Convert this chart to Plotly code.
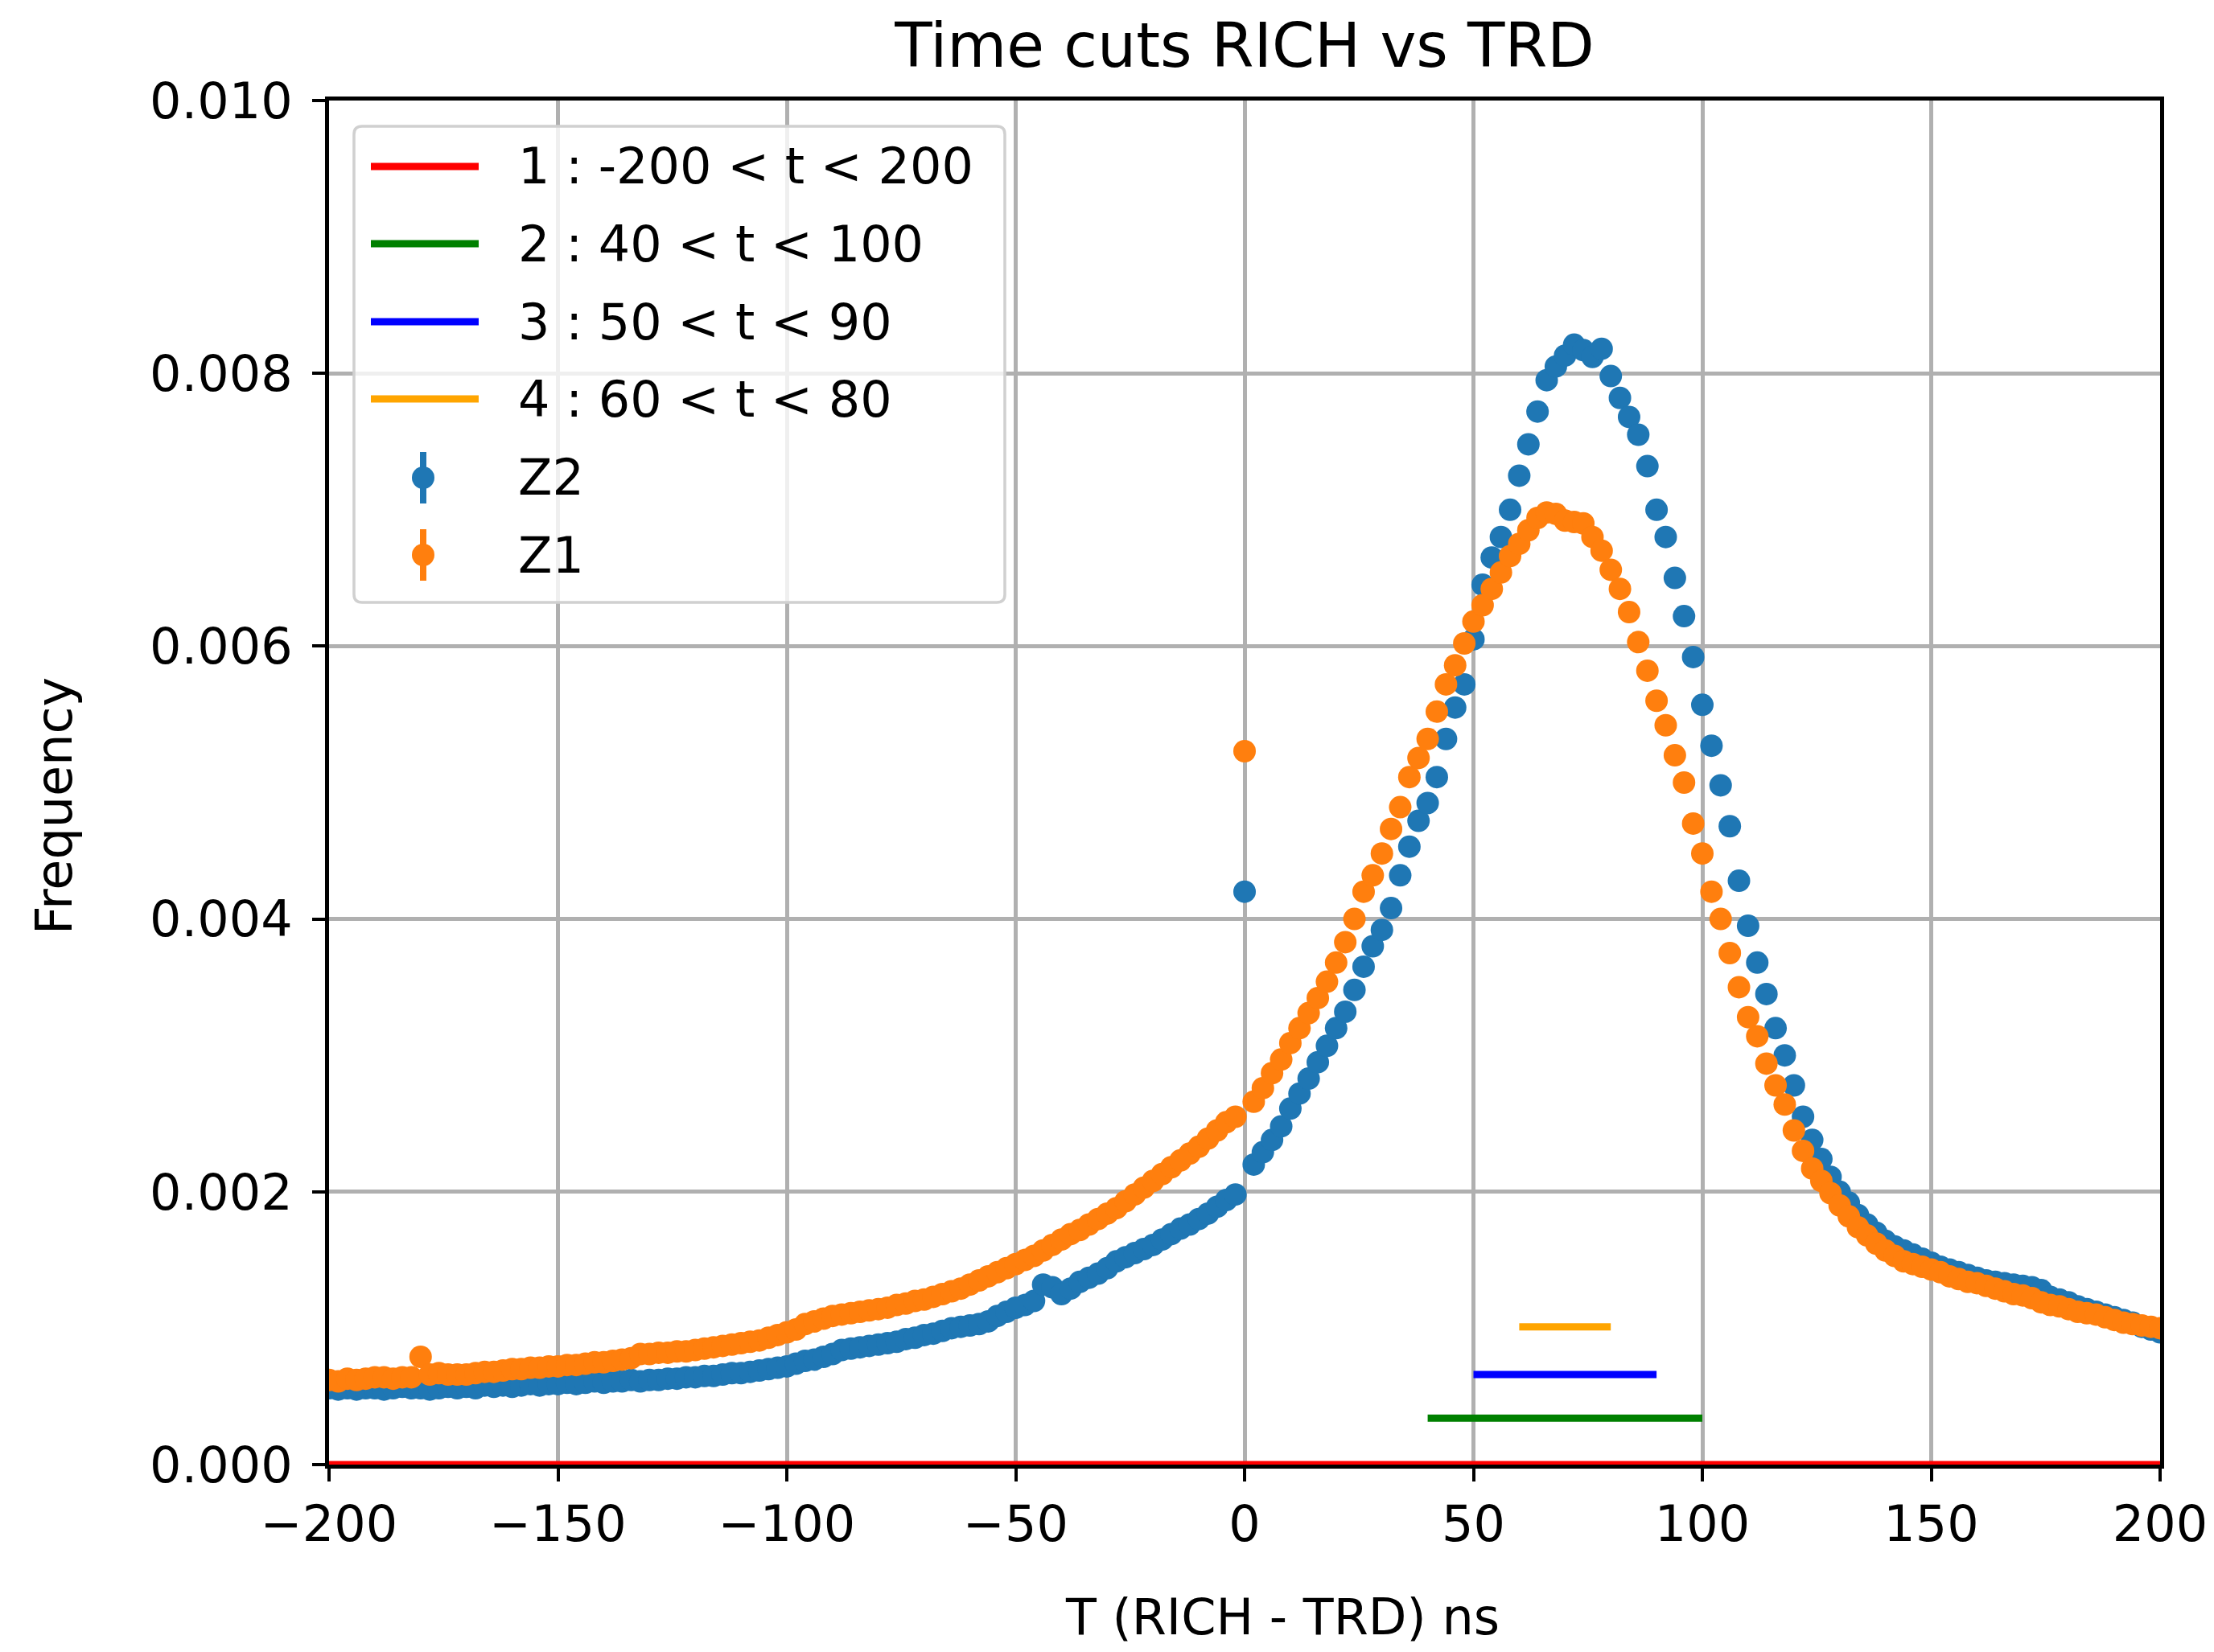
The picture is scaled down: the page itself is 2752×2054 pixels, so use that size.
import plotly.graph_objects as go

# ---------------- data ----------------
# bin positions (ns)
t_bins = list(range(-200, 201, 2))

# normalised frequency, in units of 1e-3
freq_z2_milli = [
    0.56, 0.55, 0.56, 0.55, 0.56, 0.56, 0.55, 0.56, 0.57, 0.56,
    0.56, 0.55, 0.56, 0.57, 0.56, 0.57, 0.56, 0.58, 0.57, 0.58,
    0.57, 0.58, 0.59, 0.58, 0.59, 0.59, 0.60, 0.59, 0.60, 0.61,
    0.60, 0.61, 0.61, 0.62, 0.61, 0.62, 0.62, 0.63, 0.63, 0.64,
    0.64, 0.65, 0.65, 0.66, 0.67, 0.67, 0.68, 0.69, 0.70, 0.71,
    0.72, 0.74, 0.76, 0.77, 0.79, 0.81, 0.84, 0.85, 0.86, 0.87,
    0.88, 0.89, 0.90, 0.92, 0.93, 0.95, 0.96, 0.98, 1.00, 1.01,
    1.02, 1.03, 1.05, 1.09, 1.12, 1.15, 1.17, 1.20, 1.32, 1.30,
    1.25, 1.29, 1.34, 1.37, 1.40, 1.44, 1.49, 1.52, 1.55, 1.58,
    1.61, 1.65, 1.69, 1.73, 1.76, 1.80, 1.84, 1.89, 1.94, 1.98,
    4.20, 2.20, 2.29, 2.38, 2.48, 2.61, 2.72, 2.83, 2.95, 3.07,
    3.20, 3.32, 3.48, 3.65, 3.80, 3.92, 4.08, 4.32, 4.53, 4.72,
    4.85, 5.04, 5.32, 5.55, 5.72, 6.05, 6.45, 6.65, 6.80, 7.00,
    7.25, 7.48, 7.72, 7.95, 8.05, 8.13, 8.21, 8.17, 8.12, 8.18,
    7.98, 7.82, 7.68, 7.55, 7.32, 7.00, 6.80, 6.50, 6.22, 5.92,
    5.57, 5.27, 4.98, 4.68, 4.28, 3.95, 3.68, 3.45, 3.20, 3.00,
    2.78, 2.55, 2.38, 2.24, 2.11, 2.00, 1.92, 1.83, 1.76, 1.70,
    1.64, 1.60, 1.57, 1.54, 1.51, 1.48, 1.45, 1.43, 1.41, 1.39,
    1.37, 1.35, 1.34, 1.33, 1.32, 1.31, 1.30, 1.28, 1.23, 1.21,
    1.19, 1.16, 1.14, 1.12, 1.10, 1.08, 1.06, 1.04, 1.01, 0.99,
    0.97,
]

freq_z1_milli = [
    0.62, 0.61, 0.63, 0.62, 0.63, 0.64, 0.64, 0.63, 0.64, 0.64,
    0.79, 0.66, 0.67, 0.66, 0.66, 0.66, 0.67, 0.68, 0.68, 0.69,
    0.70, 0.70, 0.71, 0.71, 0.72, 0.72, 0.73, 0.73, 0.74, 0.75,
    0.75, 0.76, 0.77, 0.78, 0.81, 0.81, 0.82, 0.82, 0.83, 0.83,
    0.84, 0.85, 0.86, 0.87, 0.88, 0.89, 0.90, 0.91, 0.93, 0.95,
    0.97, 0.99, 1.03, 1.05, 1.07, 1.09, 1.10, 1.11, 1.12, 1.13,
    1.14, 1.15, 1.17, 1.18, 1.20, 1.21, 1.23, 1.25, 1.27, 1.29,
    1.32, 1.35, 1.38, 1.41, 1.44, 1.47, 1.50, 1.53, 1.57, 1.61,
    1.65, 1.69, 1.72, 1.76, 1.80, 1.84, 1.88, 1.93, 1.98, 2.03,
    2.08, 2.13, 2.18, 2.23, 2.28, 2.33, 2.39, 2.45, 2.51, 2.55,
    5.23, 2.66, 2.76, 2.87, 2.97, 3.09, 3.20, 3.31, 3.42, 3.54,
    3.68, 3.83, 4.00, 4.20, 4.32, 4.48, 4.66, 4.82, 5.04, 5.18,
    5.32, 5.52, 5.72, 5.86, 6.02, 6.18, 6.30, 6.42, 6.54, 6.66,
    6.75, 6.85, 6.94, 6.98, 6.97, 6.92, 6.91, 6.90, 6.80, 6.70,
    6.56, 6.42, 6.25, 6.03, 5.82, 5.60, 5.42, 5.20, 5.00, 4.70,
    4.48, 4.20, 4.00, 3.75, 3.50, 3.28, 3.14, 2.94, 2.78, 2.64,
    2.45, 2.30, 2.17, 2.08, 1.99, 1.90, 1.82, 1.74, 1.68, 1.62,
    1.57, 1.53, 1.49, 1.47, 1.45, 1.43, 1.41, 1.38, 1.36, 1.34,
    1.33, 1.31, 1.29, 1.27, 1.25, 1.24, 1.22, 1.19, 1.17, 1.16,
    1.14, 1.12, 1.11, 1.10, 1.08, 1.06, 1.04, 1.03, 1.02, 1.01,
    1.00,
]

series_names = ["Z2", "Z1"]
series_colors = ["#1f77b4", "#ff7f0e"]

# time cuts
cut_labels = ["1 : -200 < t < 200", "2 : 40 < t < 100", "3 : 50 < t < 90", "4 : 60 < t < 80"]
cut_lo = [-200, 40, 50, 60]
cut_hi = [200, 100, 90, 80]
cut_level = [0.0, 0.00034, 0.00066, 0.00101]
cut_colors = ["red", "green", "blue", "orange"]

x_ticks = [-200, -150, -100, -50, 0, 50, 100, 150, 200]
y_ticks = [0.0, 0.002, 0.004, 0.006, 0.008, 0.010]

title_text = "Time cuts RICH vs TRD"
x_label = "T (RICH - TRD) ns"
y_label = "Frequency"

# ---------------- figure ----------------
W, H = 2752, 2054
L, R, T, B = 409, 2685, 125, 1821
FONT = "DejaVu Sans"
FS = 62


def px(xp):
    return (xp - L) / (R - L)


def py(yp):
    return (B - yp) / (B - T)


fig = go.Figure()

for lab, lo, hi, lev, col in zip(cut_labels, cut_lo, cut_hi, cut_level, cut_colors):
    fig.add_trace(go.Scatter(x=[lo, hi], y=[lev, lev], mode="lines", name=lab,
                             line=dict(color=col, width=9), showlegend=False,
                             hoverinfo="skip"))

for name, col, vals in zip(series_names, series_colors, [freq_z2_milli, freq_z1_milli]):
    fig.add_trace(go.Scatter(x=t_bins, y=[v * 1e-3 for v in vals], mode="markers", name=name,
                             marker=dict(color=col, size=28, line=dict(width=0)),
                             showlegend=False))

axis_common = dict(
    showgrid=True, gridcolor="#b0b0b0", gridwidth=4.5,
    showline=True, linecolor="black", linewidth=5, mirror=True,
    ticks="outside", ticklen=16, tickwidth=4, tickcolor="black",
    tickfont=dict(family=FONT, size=FS, color="black"),
    zeroline=False, automargin=False,
)

fig.update_layout(
    width=W, height=H,
    margin=dict(l=L, r=W - R, t=T, b=H - B),
    paper_bgcolor="white", plot_bgcolor="white",
    font=dict(family=FONT, color="black"),
    showlegend=False,
    title=dict(text=title_text, font=dict(family=FONT, size=76, color="black"),
               x=0.5, xref="paper", xanchor="center",
               y=1 - 56 / H, yref="container", yanchor="middle"),
    xaxis=dict(range=[-200, 200], tickvals=x_ticks, **axis_common),
    yaxis=dict(range=[0, 0.010], tickvals=y_ticks, tickformat=".3f",
               ticklabelstandoff=12, **axis_common),
)

# axis labels placed like the reference
fig.add_annotation(text=x_label, xref="paper", yref="paper", x=px(1594), y=py(2010),
                   xanchor="center", yanchor="middle", showarrow=False,
                   font=dict(family=FONT, size=FS, color="black"))
fig.add_annotation(text=y_label, xref="paper", yref="paper", x=px(67), y=py(1002),
                   xanchor="center", yanchor="middle", showarrow=False, textangle=-90,
                   font=dict(family=FONT, size=FS, color="black"))

# ---------------- legend (drawn manually to match the reference layout) ----------------
box_l, box_r, box_t, box_b = 440, 1249, 157, 749
bw, bh, rr = box_r - box_l, box_b - box_t, 10
hw, hh = bw / 2, bh / 2
path = (f"M {-hw + rr},{-hh} L {hw - rr},{-hh} Q {hw},{-hh} {hw},{-hh + rr} "
        f"L {hw},{hh - rr} Q {hw},{hh} {hw - rr},{hh} L {-hw + rr},{hh} "
        f"Q {-hw},{hh} {-hw},{hh - rr} L {-hw},{-hh + rr} Q {-hw},{-hh} {-hw + rr},{-hh} Z")
fig.add_shape(type="path", path=path, xref="paper", yref="paper",
              xsizemode="pixel", ysizemode="pixel",
              xanchor=px((box_l + box_r) / 2), yanchor=py((box_t + box_b) / 2),
              fillcolor="rgba(255,255,255,0.8)", line=dict(color="#d0d0d0", width=3.5))

row_y = [207, 303, 400, 496, 594, 690]
sym_l, sym_r, text_x = 461, 595, 642
sym_c = (sym_l + sym_r) / 2 - 2

for i, (lab, col) in enumerate(zip(cut_labels, cut_colors)):
    fig.add_shape(type="line", xref="paper", yref="paper",
                  x0=px(sym_l), x1=px(sym_r), y0=py(row_y[i]), y1=py(row_y[i]),
                  line=dict(color=col, width=9))

for j, (name, col) in enumerate(zip(series_names, series_colors)):
    yy = row_y[len(cut_labels) + j]
    fig.add_shape(type="line", xref="paper", yref="paper",
                  xsizemode="pixel", ysizemode="pixel",
                  xanchor=px(sym_c), yanchor=py(yy), x0=0, x1=0, y0=-32, y1=32,
                  line=dict(color=col, width=8))
    fig.add_shape(type="circle", xref="paper", yref="paper",
                  xsizemode="pixel", ysizemode="pixel",
                  xanchor=px(sym_c), yanchor=py(yy), x0=-14, x1=14, y0=-14, y1=14,
                  fillcolor=col, line=dict(width=0))

legend_labels = [l.replace("<", "&lt;") for l in cut_labels] + series_names
for i, lab in enumerate(legend_labels):
    fig.add_annotation(text=lab, xref="paper", yref="paper", x=px(text_x), y=py(row_y[i]),
                       xanchor="left", yanchor="middle", showarrow=False,
                       font=dict(family=FONT, size=FS, color="black"))

fig.write_html("out.html")
